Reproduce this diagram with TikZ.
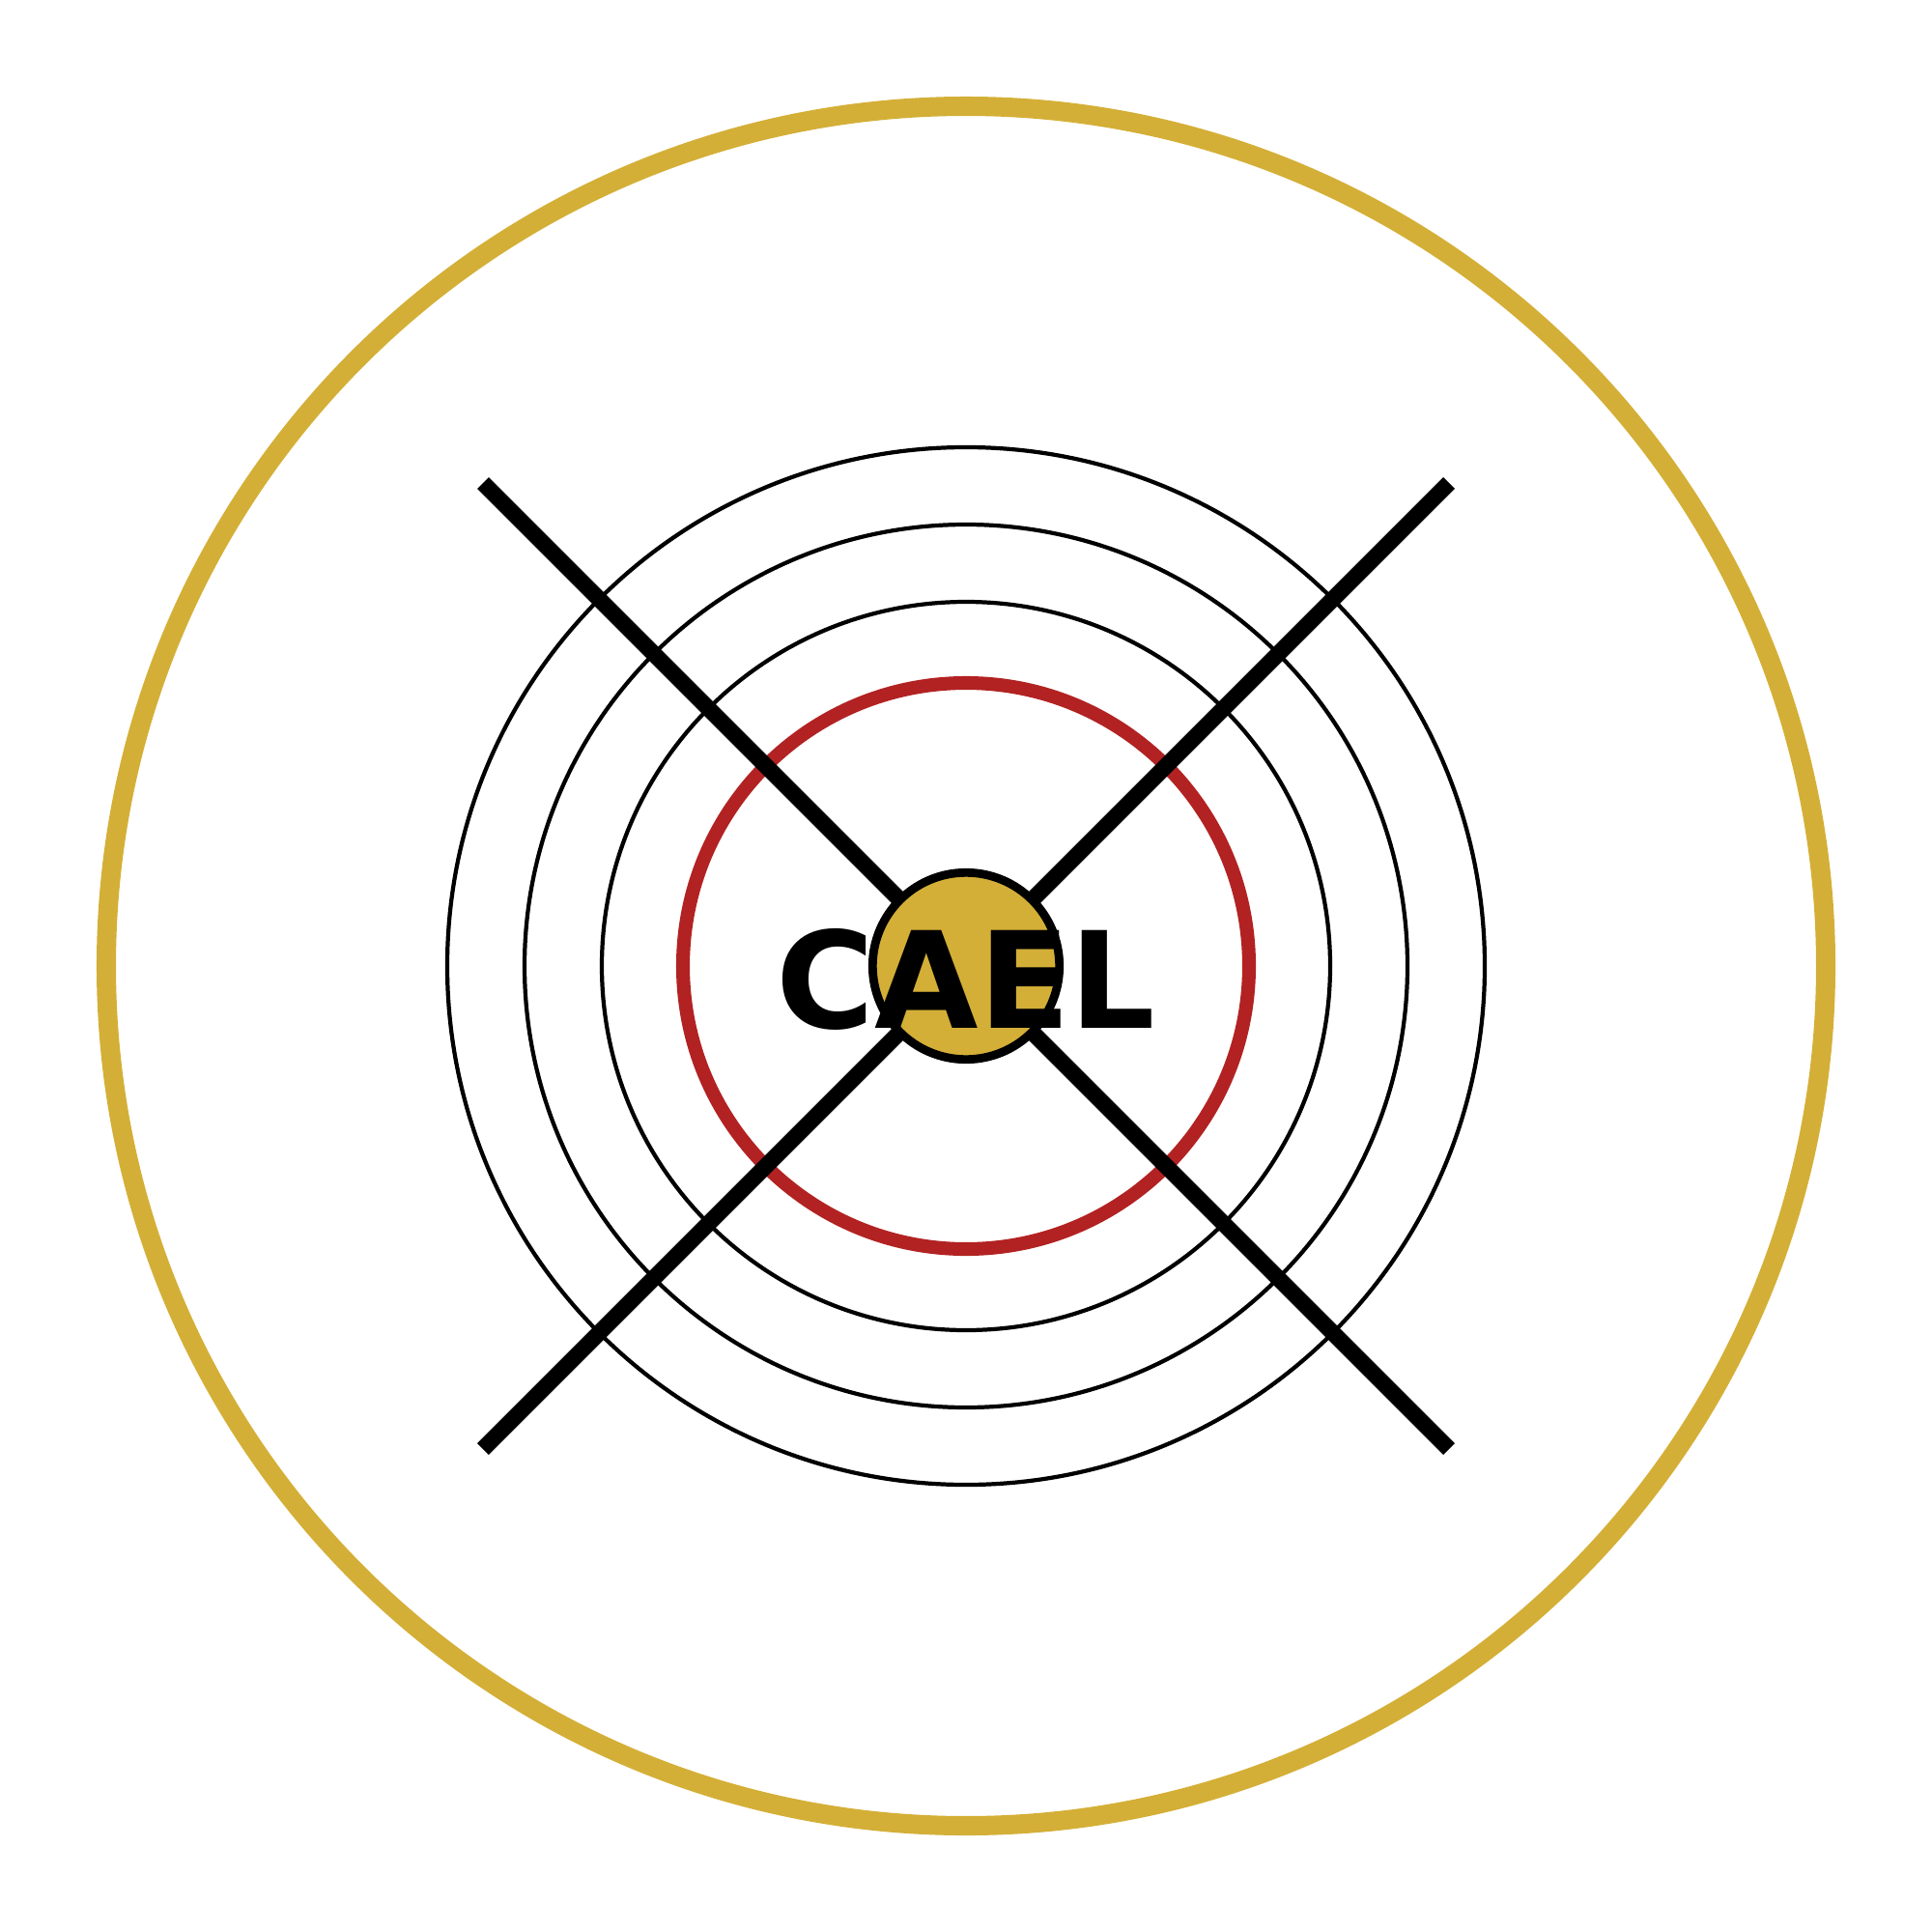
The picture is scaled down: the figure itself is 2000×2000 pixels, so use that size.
\documentclass[tikz,border=0pt]{standalone}
\usepackage{fontspec}
\newfontfamily\labelfont{DejaVu Sans}
\definecolor{gold}{HTML}{D4AF37}
\definecolor{ringred}{HTML}{B22222}
\begin{document}
\begin{tikzpicture}[x=0.01cm,y=-0.01cm,
  ring/.style={draw=black,line width=1.2pt},
  cross/.style={draw=black,line width=4.8pt,line cap=butt}]
\useasboundingbox (0,0) rectangle (2000,2000);
\coordinate (c) at (1000,1000);
\draw[gold,line width=5.7pt] (c) circle[radius=890];
\draw[ring] (c) circle[radius=537];
\draw[ring] (c) circle[radius=457];
\draw[ring] (c) circle[radius=377];
\draw[ringred,line width=4pt] (c) circle[radius=293];
\coordinate (tl) at (500,500);
\coordinate (br) at (1500,1500);
\coordinate (tr) at (1500,500);
\coordinate (bl) at (500,1500);
\draw[cross] (tl) -- (br);
\draw[cross] (tr) -- (bl);
\node[circle,fill=gold,draw=black,line width=2.5pt,minimum size=55pt,inner sep=0pt] (hub) at (c) {};
\node[anchor=base,inner sep=0pt,font=\labelfont\bfseries\fontsize{39.5}{40}\selectfont] (lbl) at (1000,1064) {CAEL};
\end{tikzpicture}
\end{document}
